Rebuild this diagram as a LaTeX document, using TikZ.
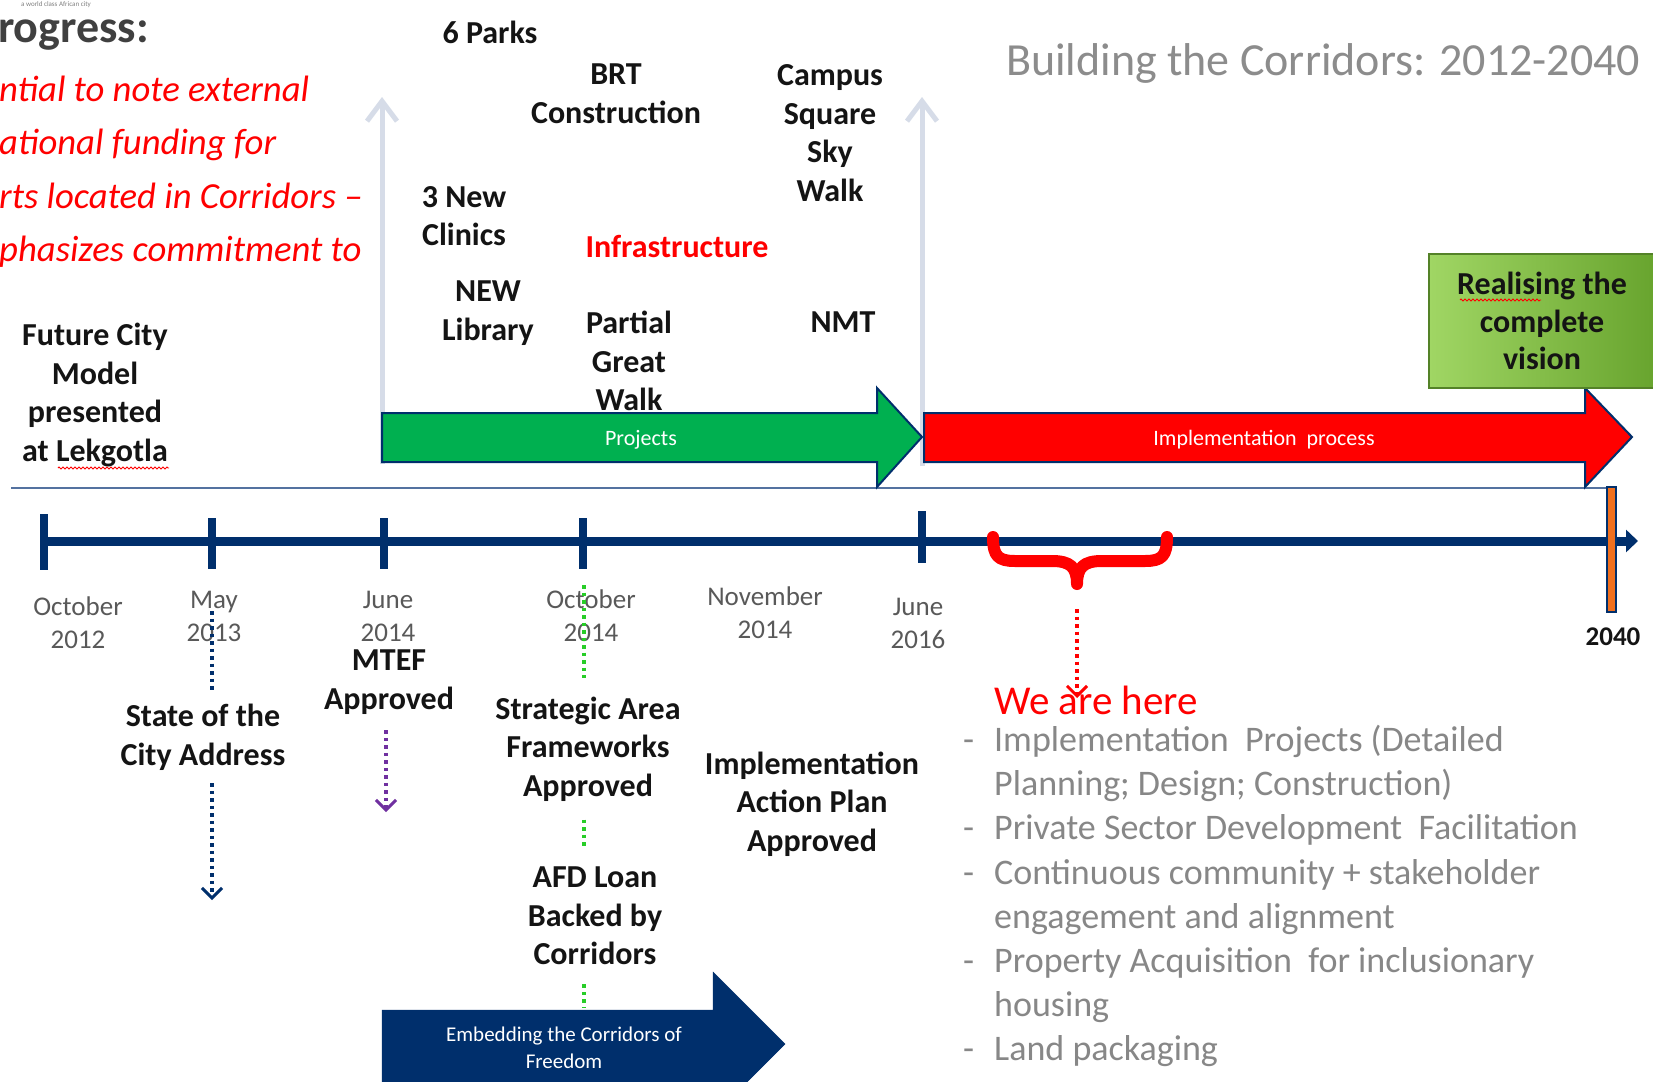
\documentclass[tikz,border=0pt]{standalone}
\usepackage{fontspec}
\setmainfont{Carlito}
\usetikzlibrary{arrows.meta,decorations.pathmorphing}

\definecolor{navy}{RGB}{0,47,108}
\definecolor{projgreen}{RGB}{0,176,80}
\definecolor{implred}{RGB}{255,0,0}
\definecolor{guidegray}{RGB}{214,220,232}
\definecolor{thinblue}{RGB}{84,114,160}
\definecolor{barorange}{RGB}{240,112,30}
\definecolor{dotpurple}{RGB}{112,48,160}
\definecolor{dotgreen}{RGB}{40,205,40}
\definecolor{dategray}{RGB}{89,89,89}
\definecolor{listgray}{RGB}{135,135,135}
\definecolor{titlegray}{RGB}{140,140,140}
\definecolor{headgray}{RGB}{64,64,64}
\definecolor{labelblack}{RGB}{20,20,20}
\definecolor{boxlight}{RGB}{160,214,100}
\definecolor{boxdark}{RGB}{104,164,46}
\definecolor{boxedge}{RGB}{84,130,40}

\newcommand\setfs[2]{\fontsize{#1}{#2}\selectfont}

\begin{document}
\begin{tikzpicture}[x=1pt,y=-1pt,
  lbl/.style={font=\bfseries\setfs{32}{38.6}, text=labelblack, align=center, inner sep=0pt},
  datelbl/.style={font=\setfs{27}{33}, text=dategray, align=center, inner sep=0pt},
  inarrow/.style={font=\setfs{22}{27}, text=white, align=center, inner sep=0pt},
  redline/.style={font=\itshape\setfs{36.7}{44}, text=implred, anchor=base west, inner sep=0pt},
  guide/.style={draw=guidegray, line width=5pt, -{Straight Barb[length=20pt,width=30pt,line width=5pt]}},
  dots/.style={line width=4pt, dash pattern=on 3.5pt off 4pt},
  dottip/.style={-{Straight Barb[length=10pt,width=20pt,line width=3pt]}},
  tick/.style={draw=navy, line width=8pt},
  blockarrow/.style={draw=navy, line width=2pt, line join=miter},
  squiggle/.style={draw=red, line width=0.8pt, decorate, decoration={zigzag, segment length=4pt, amplitude=1pt}}
]
\useasboundingbox (0,0) rectangle (1653,1081);
\clip (0,0) rectangle (1653,1081);
\fill[white] (0,0) rectangle (1653,1081);

% ---------- heading area ----------
\node[font=\setfs{7}{8}, text=gray, anchor=west, inner sep=0pt] (tagline) at (21,5) {a world class African city};
\node[font=\bfseries\setfs{46}{50}, text=headgray, anchor=base west, inner sep=0pt] (progress) at (-2,42) {rogress:};
\node[redline] (r1) at (-1,101) {ntial to note external};
\node[redline] (r2) at (-1,154.5) {ational funding for};
\node[redline] (r3) at (-1,208) {rts located in Corridors –};
\node[redline] (r4) at (-1,261.5) {phasizes commitment to};
\node[font=\setfs{46}{50}, text=titlegray, anchor=base west, inner sep=0pt] (title) at (1006,75) {Building the Corridors: 2012-2040};

% ---------- light guide arrows framing the project period ----------
\draw[guide] (382,464) -- (382,97);
\draw[guide] (922,466) -- (922,97);

% thin rule under the process arrows
\draw[thinblue, line width=2pt] (11,488) -- (1607,488);

% ---------- process arrows ----------
\draw[blockarrow, fill=projgreen] (382,413) -- (877,413) -- (877,388) -- (922,437) -- (877,487) -- (877,462) -- (382,462) -- cycle;
\node[inarrow] (proj) at (641,440) {Projects};
\draw[blockarrow, fill=implred] (924,413) -- (1585,413) -- (1585,388) -- (1632,437) -- (1585,487) -- (1585,462) -- (924,462) -- cycle;
\node[inarrow] (impl) at (1264,440) {Implementation~ process};

% ---------- vision box ----------
\node[draw=boxedge, line width=2pt, left color=boxlight, right color=boxdark,
      minimum width=226pt, minimum height=134pt, inner sep=0pt, align=center,
      font=\bfseries\setfs{32}{37.5}, text=labelblack] (vision) at (1542,321) {Realising the\\complete\\vision};
\draw[squiggle] (1460,300) -- (1541,300);

% ---------- timeline ----------
\coordinate (tlstart) at (44,541);
\coordinate (tlend) at (1638,541);
\draw[navy, line width=9pt, -{Triangle[length=12pt,width=22pt]}] (tlstart) -- (tlend);
\draw[tick] (44,514) -- (44,570);
\draw[tick] (212,518) -- (212,569);
\draw[tick] (384,518) -- (384,569);
\draw[tick] (583,518) -- (583,569);
\draw[tick] (922,511) -- (922,563);
\draw[fill=barorange, draw=navy, line width=1.5pt] (1607,487) rectangle (1616,612);

% "we are here" brace
\draw[implred, line width=12pt, line cap=round, line join=round]
  (993,537) .. controls (993,556) and (998,561) .. (1015,561) -- (1052,561)
  .. controls (1070,561) and (1077,567) .. (1077,584)
  .. controls (1077,567) and (1084,561) .. (1102,561) -- (1145,561)
  .. controls (1162,561) and (1167,556) .. (1167,537);
\coordinate (bracetip) at (1077,588);

% ---------- dates ----------
\node[datelbl] (d1) at (78,623) {October\\2012};
\node[datelbl] (d2) at (214,616) {May\\2013};
\node[datelbl] (d3) at (388,616) {June\\2014};
\node[datelbl] (d4) at (591,616) {October\\2014};
\node[datelbl] (d5) at (765,613) {November\\2014};
\node[datelbl] (d6) at (918,623) {June\\2016};
\node[font=\bfseries\setfs{27}{33}, text=labelblack, inner sep=0pt] (d7) at (1613,637) {2040};

% ---------- milestone labels ----------
\node[lbl] (parks) at (490,32) {6 Parks};
\node[lbl] (brt) at (616,94) {BRT\\Construction};
\node[lbl] (campus) at (830,133) {Campus\\Square\\Sky\\Walk};
\node[lbl] (clinics) at (464,216) {3 New\\Clinics};
\node[lbl, text=implred] (infra) at (677,246) {Infrastructure};
\node[lbl] (library) at (488,313) {NEW\\Library};
\node[lbl] (gwalk) at (629,361) {Partial\\Great\\Walk};
\node[lbl] (nmt) at (843,322) {NMT};
\node[lbl] (future) at (95,395) {Future City\\Model\\presented\\at Lekgotla};
\draw[squiggle] (58,468) -- (169,468);
\node[lbl] (state) at (203,737) {State of the\\City Address};
\node[lbl] (mtef) at (389,682) {MTEF\\Approved};
\node[lbl] (strategic) at (588,749) {Strategic Area\\Frameworks\\Approved};
\node[lbl] (afd) at (595,916) {AFD Loan\\Backed by\\Corridors};
\node[lbl] (iap) at (812,804) {Implementation\\Action Plan\\Approved};

% ---------- embedding arrow ----------
\draw[fill=navy, draw=navy] (382,1010) -- (713,1010) -- (713,972) -- (785,1044) -- (713,1116) -- (713,1095) -- (382,1095) -- cycle;
\node[inarrow, font=\setfs{21}{27}] (embed) at (564,1048) {Embedding the Corridors of\\Freedom};

% ---------- dotted connectors ----------
\coordinate (maytop) at (212,611);
\coordinate (mayend) at (212,900);
\draw[navy, dots, shorten >=14pt] (maytop) -- (state.north -| maytop);
\draw[navy, dots, dottip, shorten <=13pt] (state.south -| mayend) -- (mayend);

\coordinate (mtefend) at (386,812);
\draw[dotpurple, dots, dottip, shorten <=16pt] (mtef.south -| mtefend) -- (mtefend);

\coordinate (octtop) at (584,585);
\coordinate (embedtop) at (584,1008);
\draw[dotgreen, dots, shorten >=18pt] (octtop) -- (strategic.north -| octtop);
\draw[dotgreen, dots, shorten <=18pt, shorten >=18pt] (strategic.south -| octtop) -- (afd.north -| octtop);
\draw[dotgreen, dots, shorten <=19pt] (afd.south -| embedtop) -- (embedtop);

\coordinate (weare) at (1077,698);
\draw[implred, dots, dottip, shorten <=21pt] (bracetip) -- (weare);

% ---------- current stage ----------
\node[font=\setfs{41}{45}, text=implred, anchor=west, inner sep=0pt] (here) at (994,700) {We are here};
\node[font=\setfs{36}{44.1}, text=listgray, align=left, anchor=west, inner sep=0pt] (tasks) at (963,896)
  {\makebox[31pt][l]{-}Implementation~ Projects (Detailed\\
   \hspace*{31pt}Planning; Design; Construction)\\
   \makebox[31pt][l]{-}Private Sector Development~ Facilitation\\
   \makebox[31pt][l]{-}Continuous community + stakeholder\\
   \hspace*{31pt}engagement and alignment\\
   \makebox[31pt][l]{-}Property Acquisition~ for inclusionary\\
   \hspace*{31pt}housing\\
   \makebox[31pt][l]{-}Land packaging};
\end{tikzpicture}
\end{document}
